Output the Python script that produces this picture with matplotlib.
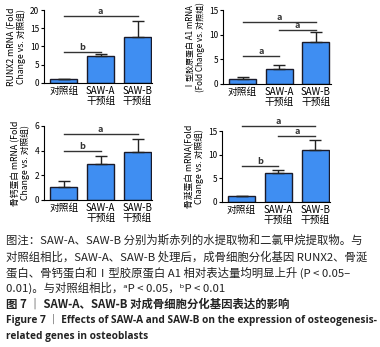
import matplotlib
matplotlib.use("Agg")
import matplotlib.pyplot as plt

plt.rcParams['font.family'] = ['Noto Sans CJK SC', 'DejaVu Sans']

groups = ["对照组", "SAW-A\n干预组", "SAW-B\n干预组"]

runx2_mean = [1.0, 7.5, 12.5]
runx2_err = [0.2, 0.4, 4.5]
col1_mean = [1.1, 3.1, 8.6]
col1_err = [0.25, 0.65, 1.9]
ocn_mean = [1.05, 2.9, 3.85]
ocn_err = [0.45, 0.7, 1.1]
bsp_mean = [1.2, 6.05, 10.95]
bsp_err = [0.1, 0.7, 2.25]

ylabels = ["RUNX2 mRNA (Fold\nChange vs. 对照组)",
           "Ⅰ型胶原蛋白 A1 mRNA\n(Fold Change vs. 对照组)",
           "骨钙蛋白 mRNA (Fold\nChange vs. 对照组)",
           "骨涎蛋白 mRNA(Fold\nChange vs. 对照组)"]
ylabel_size = [6.3, 5.8, 6.3, 6.3]
yticks = [[0, 5, 10, 15, 20], [0, 5, 10, 15], [0, 2, 4, 6], [0, 5, 10, 15]]
# significance brackets: (from, to, height, label)
sig = [[(0, 2, 18.4, "a"), (0, 1, 8.6, "b")],
       [(0, 2, 12.6, "a"), (1, 2, 11.0, "a"), (0, 1, 5.6, "a")],
       [(0, 2, 5.38, "a"), (0, 1, 3.95, "b")],
       [(0, 2, 16.0, "a"), (1, 2, 14.0, "a"), (0, 1, 7.6, "b")]]

means = [runx2_mean, col1_mean, ocn_mean, bsp_mean]
errs = [runx2_err, col1_err, ocn_err, bsp_err]
boxes = [[0.116, 0.761, 0.285, 0.210],
         [0.587, 0.758, 0.283, 0.213],
         [0.116, 0.424, 0.285, 0.213],
         [0.584, 0.418, 0.285, 0.204]]

fig = plt.figure(figsize=(3.8, 3.47), dpi=100)
x = [0, 1, 2]
for i in range(4):
    ax = fig.add_axes(boxes[i])
    ax.bar(x, means[i], width=0.74, color='#3f8ef2', edgecolor='#1a1a2a', linewidth=1.0,
           yerr=[[0, 0, 0], errs[i]], capsize=4,
           error_kw=dict(ecolor='#222222', elinewidth=1.0, capthick=1.0))
    ax.set_xlim(-0.53, 2.4)
    ax.set_ylim(0, yticks[i][-1])
    ax.set_yticks(yticks[i])
    ax.set_xticks(x)
    ax.set_xticklabels(groups, fontsize=7, linespacing=1.0)
    ax.tick_params(axis='y', labelsize=6, length=2.5, width=0.8, pad=1)
    ax.tick_params(axis='x', length=0, pad=2)
    ax.spines['top'].set_visible(False)
    ax.spines['right'].set_visible(False)
    ax.spines['left'].set_linewidth(0.8)
    ax.spines['bottom'].set_linewidth(0.8)
    ax.set_ylabel(ylabels[i], fontsize=ylabel_size[i], linespacing=1.05, labelpad=3)
    for a, b, h, lab in sig[i]:
        ax.plot([a, b], [h, h], color='#333333', lw=1.0, clip_on=False)
        ax.text((a + b) / 2, h, lab, ha='center', va='bottom', fontsize=6.5,
                fontweight='bold', color='#333333', clip_on=False)

caption = ["图注：SAW-A、SAW-B 分别为斯赤列的水提取物和二氯甲烷提取物。与",
           "对照组相比，SAW-A、SAW-B 处理后，成骨细胞分化基因 RUNX2、骨涎",
           "蛋白、骨钙蛋白和Ⅰ型胶原蛋白 A1 相对表达量均明显上升 (P < 0.05–",
           "0.01)。与对照组相比，ᵃP < 0.05，ᵇP < 0.01"]
title_cn = "图 7 ｜ SAW-A、SAW-B 对成骨细胞分化基因表达的影响"
title_en = ["Figure 7 ｜ Effects of SAW-A and SAW-B on the expression of osteogenesis-",
            "related genes in osteoblasts"]

ys = [240, 256.5, 272.5, 288]
for line, y in zip(caption, ys):
    fig.text(6 / 380, 1 - y / 347, line, fontsize=8.2, va='center', ha='left', color='#222222')
fig.text(6 / 380, 1 - 304 / 347, title_cn, fontsize=8.2, va='center', ha='left',
         color='#222222', fontweight='bold')
for line, y in zip(title_en, [320, 337]):
    fig.text(6 / 380, 1 - y / 347, line, fontsize=7.3, va='center', ha='left',
             color='#222222', fontweight='bold', family=['Open Sans', 'Noto Sans CJK SC'])

fig.savefig("out.png", dpi=100)
